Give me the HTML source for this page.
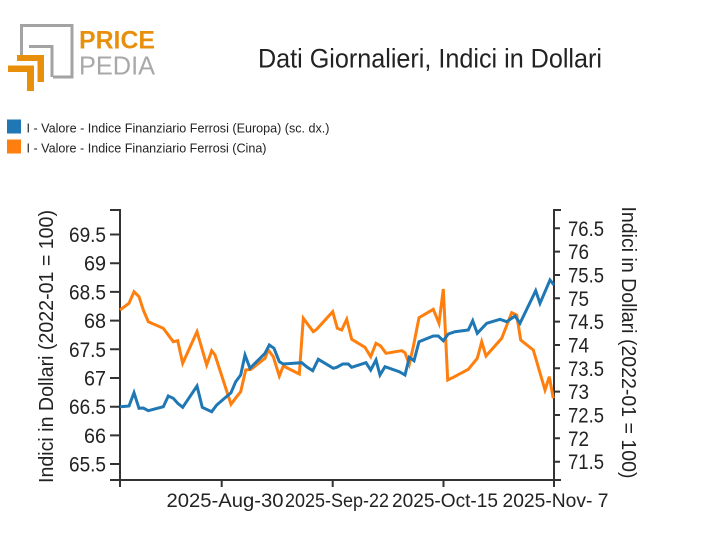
<!DOCTYPE html>
<html><head><meta charset="utf-8"><style>
html,body{margin:0;padding:0;background:#fff;}
svg{display:block;}
text{font-family:"Liberation Sans",sans-serif;fill:#222;}
</style></head><body>
<svg width="712" height="555" viewBox="0 0 712 555" xmlns="http://www.w3.org/2000/svg">
<rect width="712" height="555" fill="#fff"/>
<!-- logo -->
<g fill="none" stroke="#a3a3a3" stroke-width="3">
<polyline points="21.5,57 21.5,25.5 72,25.5 72,77 53,77"/>
<polyline points="29,46.5 52,46.5 52,77"/>
</g>
<g fill="#e8900c">
<rect x="17" y="55" width="27" height="6"/>
<rect x="37.5" y="55" width="6.5" height="27"/>
<rect x="8" y="65.5" width="26" height="6.5"/>
<rect x="27" y="65.5" width="7" height="25.5"/>
</g>
<text x="79" y="48.5" font-size="25" font-weight="bold" style="fill:#e8900c" textLength="76" lengthAdjust="spacingAndGlyphs">PRICE</text>
<text x="79" y="74.5" font-size="26" style="fill:#a8a8a8" textLength="76" lengthAdjust="spacingAndGlyphs">PEDIA</text>
<!-- title -->
<text x="258" y="67.5" font-size="27" textLength="344" lengthAdjust="spacingAndGlyphs">Dati Giornalieri, Indici in Dollari</text>
<!-- legend -->
<rect x="7" y="119.5" width="14" height="14" fill="#1f77b4"/>
<rect x="7" y="139.5" width="14" height="14" fill="#ff7f0e"/>
<text x="26.5" y="132.5" font-size="13" textLength="303" lengthAdjust="spacingAndGlyphs">I - Valore - Indice Finanziario Ferrosi (Europa) (sc. dx.)</text>
<text x="26.5" y="152.5" font-size="13" textLength="240" lengthAdjust="spacingAndGlyphs">I - Valore - Indice Finanziario Ferrosi (Cina)</text>
<!-- axes -->
<g stroke="#333" stroke-width="2" fill="none">
<path d="M110,210H120V480H110"/>
<path d="M561,210H554V480H561"/>
<path d="M120,487V480H554V487"/>
<path d="M110,234.5H120M110,263.2H120M110,291.9H120M110,320.6H120M110,349.3H120M110,378H120M110,406.7H120M110,435.4H120M110,464H120"/>
<path d="M554,228.3H560M554,251.6H560M554,275H560M554,298.3H560M554,321.6H560M554,345H560M554,368.3H560M554,391.6H560M554,415H560M554,438.3H560M554,461.7H560"/>
<path d="M221.7,480V487M332.7,480V487M443.5,480V487"/>
</g>
<!-- left tick labels -->
<g font-size="21" text-anchor="end">
<text x="106" y="242" textLength="37" lengthAdjust="spacingAndGlyphs">69.5</text>
<text x="106" y="270.7" textLength="22" lengthAdjust="spacingAndGlyphs">69</text>
<text x="106" y="299.4" textLength="37" lengthAdjust="spacingAndGlyphs">68.5</text>
<text x="106" y="328.1" textLength="22" lengthAdjust="spacingAndGlyphs">68</text>
<text x="106" y="356.8" textLength="37" lengthAdjust="spacingAndGlyphs">67.5</text>
<text x="106" y="385.5" textLength="22" lengthAdjust="spacingAndGlyphs">67</text>
<text x="106" y="414.2" textLength="37" lengthAdjust="spacingAndGlyphs">66.5</text>
<text x="106" y="442.9" textLength="22" lengthAdjust="spacingAndGlyphs">66</text>
<text x="106" y="471.5" textLength="37" lengthAdjust="spacingAndGlyphs">65.5</text>
</g>
<!-- right tick labels -->
<g font-size="21">
<text x="568" y="235.8" textLength="36" lengthAdjust="spacingAndGlyphs">76.5</text>
<text x="568" y="259.1" textLength="21" lengthAdjust="spacingAndGlyphs">76</text>
<text x="568" y="282.5" textLength="36" lengthAdjust="spacingAndGlyphs">75.5</text>
<text x="568" y="305.8" textLength="21" lengthAdjust="spacingAndGlyphs">75</text>
<text x="568" y="329.1" textLength="36" lengthAdjust="spacingAndGlyphs">74.5</text>
<text x="568" y="352.5" textLength="21" lengthAdjust="spacingAndGlyphs">74</text>
<text x="568" y="375.8" textLength="36" lengthAdjust="spacingAndGlyphs">73.5</text>
<text x="568" y="399.1" textLength="21" lengthAdjust="spacingAndGlyphs">73</text>
<text x="568" y="422.5" textLength="36" lengthAdjust="spacingAndGlyphs">72.5</text>
<text x="568" y="445.8" textLength="21" lengthAdjust="spacingAndGlyphs">72</text>
<text x="568" y="469.2" textLength="36" lengthAdjust="spacingAndGlyphs">71.5</text>
</g>
<!-- x tick labels -->
<g font-size="19" text-anchor="middle">
<text x="225" y="507" textLength="117" lengthAdjust="spacingAndGlyphs">2025-Aug-30</text>
<text x="337" y="507" textLength="104" lengthAdjust="spacingAndGlyphs">2025-Sep-22</text>
<text x="445" y="507" textLength="106" lengthAdjust="spacingAndGlyphs">2025-Oct-15</text>
<text x="555.5" y="507" textLength="106" lengthAdjust="spacingAndGlyphs">2025-Nov- 7</text>
</g>
<!-- axis titles -->
<text transform="translate(53,346.5) rotate(-90)" font-size="20" text-anchor="middle" textLength="273" lengthAdjust="spacingAndGlyphs">Indici in Dollari (2022-01 = 100)</text>
<text transform="translate(622,342.5) rotate(90)" font-size="20" text-anchor="middle" textLength="272" lengthAdjust="spacingAndGlyphs">Indici in Dollari (2022-01 = 100)</text>
<!-- series -->
<polyline fill="none" stroke="#ff7f0e" stroke-width="3" stroke-linejoin="miter" points="120,310 129,303.3 134,291.7 139,296.7 143.3,310 148.3,321.7 163.3,328.3 173.3,341.7 177.7,340.7 182.7,363.3 197,331.7 206.7,365 211.7,350.7 215,355 231,404.3 236.7,396.7 240.7,391.7 245.7,370 251,369.3 265,358.3 268.3,350 273.3,356.7 279.3,376 283.3,366 299.3,374 303.3,318.3 313.3,331.7 316.7,329.3 332.7,311.7 337.3,328.3 341.7,330 346.7,319.3 351.7,339.3 365,347.3 370.7,356.7 376,343.3 380.7,346 386,353.3 401.7,350.7 405,352.7 409.3,364.3 413.3,346.7 419,317.7 433.3,309.3 439,323.3 443.3,289 447.7,380 453.3,377.3 468.3,369.3 477.3,358.3 481.7,341.7 486,356 501.7,338.3 511.7,312.7 516.7,315 520.7,340 533.3,350 545,390 549.3,376.7 553.3,398.3"/>
<polyline fill="none" stroke="#1f77b4" stroke-width="3" stroke-linejoin="miter" points="120,406.7 129,406 134,392.7 139,408.3 143.3,408 148.3,410.7 163.3,406.7 168.3,396 173.3,398.3 177.7,403.3 182.7,407.3 197,386 202.3,407.3 211.7,411.7 216.7,405 231,392.7 235.7,381.7 240.7,375 245,355 250,368.3 265,353.3 269.3,345 274,348.3 279.3,361.7 283.3,364 301.7,362.7 307.3,367.3 312.7,370.7 318.3,359.3 333.3,368.3 336.7,367.3 342.7,364 348.3,364 351.7,367.3 366,362.7 370.7,370 376,360 380,375 385,366.7 399.3,371.7 405,375 409.3,357.3 414,360.7 419,341.7 433.3,336 438.3,336 443.3,340.7 448.3,334 455,331.7 468.3,330 472.7,320.7 477.3,333.3 486.7,323.3 500,319.3 506.7,321.7 515,316 520,323.3 535.7,290.7 540,303.3 550,280 554,285"/>
</svg>
</body></html>
